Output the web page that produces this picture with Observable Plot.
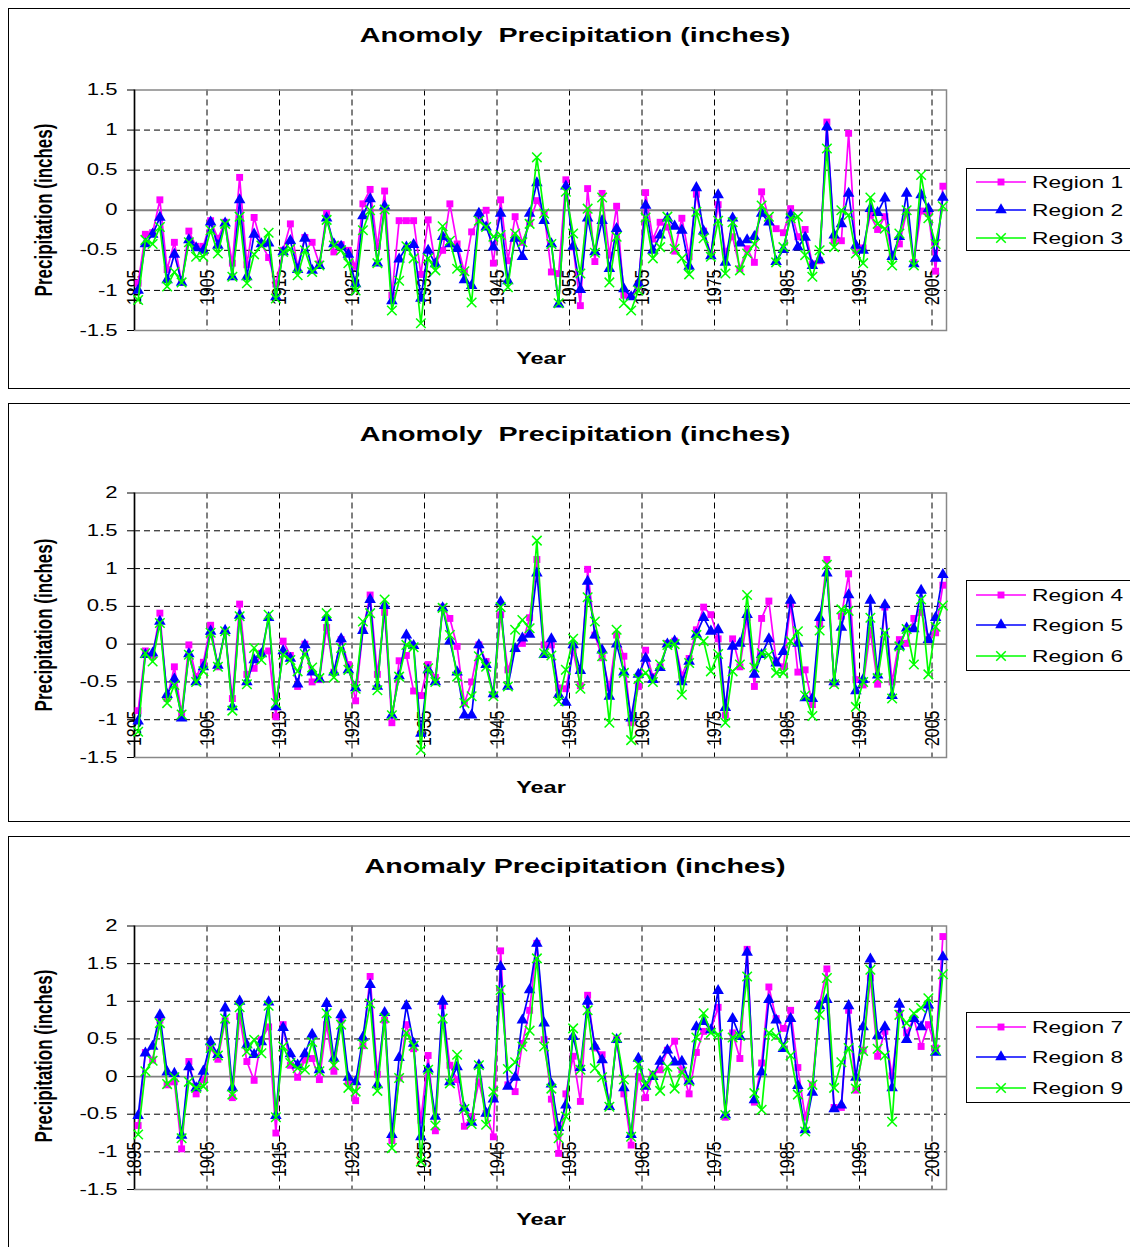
<!DOCTYPE html>
<html><head><meta charset="utf-8">
<script src="https://cdn.jsdelivr.net/npm/d3@7"></script>
<script src="https://cdn.jsdelivr.net/npm/@observablehq/plot@0.6"></script>
<style>
body{margin:0;background:#fff;font-family:"Liberation Sans",Arial,sans-serif;color:#000;}
#root{position:relative;width:1130px;height:1247px;overflow:hidden;background:#fff;}
.frame{position:absolute;border:1.5px solid #000;box-sizing:border-box;}
.t{position:absolute;white-space:pre;line-height:1;}
.leg{position:absolute;border:1px solid #000;background:#fff;box-sizing:border-box;}
svg.plot{position:absolute;left:0;overflow:visible;}
</style></head>
<body><div id="root"></div>
<script>
// ---- categories & labels ----
const years = d3.range(1895, 2007);
const xTickLabels = ["1895","1905","1915","1925","1935","1945","1955","1965","1975","1985","1995","2005"];
const yTicksTop = [-1.5,-1,-0.5,0,0.5,1,1.5];
const yTicksLow = [-1.5,-1,-0.5,0,0.5,1,1.5,2];
const titles = ["Anomoly  Precipitation (inches)","Anomoly  Precipitation (inches)","Anomaly Precipitation (inches)"];
const yTitle = "Precipitation (inches)";
const xTitle = "Year";
const regionNames = [["Region 1","Region 2","Region 3"],["Region 4","Region 5","Region 6"],["Region 7","Region 8","Region 9"]];
const colors = ["#FF00FF","#0000FF","#00FF00"];
const symbols = ["square","triangle","times"];

// ---- series values (inches anomaly), 1895..2006 ----
const region1 = [-0.91,-0.30,-0.28,0.13,-0.74,-0.40,-0.90,-0.26,-0.45,-0.45,
-0.13,-0.35,-0.15,-0.66,0.41,-0.68,-0.09,-0.42,-0.59,-0.92,
-0.50,-0.17,-0.71,-0.34,-0.40,-0.67,-0.04,-0.52,-0.43,-0.50,
-0.70,0.08,0.26,-0.45,0.24,-1.06,-0.13,-0.13,-0.13,-0.80,
-0.12,-0.67,-0.50,0.08,-0.42,-0.77,-0.27,-0.12,0.00,-0.66,
0.13,-0.63,-0.08,-0.40,-0.16,0.12,-0.04,-0.77,-0.79,0.38,
-0.46,-1.19,0.27,-0.64,0.21,-0.56,0.05,-1.06,-1.07,-0.95,
0.22,-0.36,-0.15,-0.21,-0.51,-0.10,-0.58,0.20,-0.26,-0.55,
0.07,-0.52,-0.33,-0.73,-0.48,-0.65,0.23,-0.10,-0.23,-0.28,
0.02,-0.33,-0.24,-0.67,-0.63,1.10,-0.38,-0.38,0.96,-0.50,
-0.47,-0.06,-0.24,-0.08,-0.58,-0.42,-0.02,-0.65,-0.01,-0.04,
-0.76,0.30];
const region2 = [-1.00,-0.42,-0.30,-0.09,-0.87,-0.55,-0.90,-0.37,-0.47,-0.50,
-0.15,-0.44,-0.16,-0.83,0.13,-0.83,-0.30,-0.42,-0.41,-1.08,
-0.52,-0.38,-0.74,-0.35,-0.75,-0.69,-0.10,-0.42,-0.45,-0.55,
-0.92,-0.07,0.14,-0.66,0.05,-1.13,-0.61,-0.46,-0.43,-1.10,
-0.50,-0.67,-0.33,-0.42,-0.48,-0.87,-0.94,-0.04,-0.21,-0.46,
-0.04,-0.88,-0.35,-0.58,-0.04,0.34,-0.13,-0.42,-1.17,0.30,
-0.45,-0.99,-0.10,-0.52,-0.13,-0.73,-0.23,-0.98,-1.08,-0.91,
0.06,-0.50,-0.31,-0.10,-0.20,-0.25,-0.70,0.28,-0.26,-0.57,
0.19,-0.65,-0.10,-0.41,-0.37,-0.33,-0.04,-0.15,-0.64,-0.49,
-0.06,-0.46,-0.34,-0.69,-0.62,1.04,-0.31,-0.17,0.21,-0.44,
-0.50,0.02,-0.03,0.15,-0.58,-0.33,0.21,-0.67,0.19,0.02,
-0.60,0.16];
const region3 = [-1.12,-0.37,-0.42,-0.21,-0.95,-0.77,-0.90,-0.40,-0.58,-0.58,
-0.25,-0.54,-0.17,-0.83,-0.08,-0.91,-0.55,-0.44,-0.28,-1.10,
-0.52,-0.48,-0.81,-0.50,-0.77,-0.69,-0.12,-0.44,-0.50,-0.66,
-1.00,-0.25,0.00,-0.66,0.01,-1.25,-0.88,-0.45,-0.60,-1.41,
-0.60,-0.75,-0.20,-0.38,-0.73,-0.76,-1.15,-0.13,-0.21,-0.33,
-0.31,-0.96,-0.29,-0.40,-0.17,0.66,-0.04,-0.42,-1.16,0.23,
-0.29,-0.79,0.02,-0.53,0.16,-0.90,-0.33,-1.16,-1.25,-1.00,
-0.09,-0.60,-0.46,-0.08,-0.48,-0.60,-0.80,-0.02,-0.35,-0.58,
-0.13,-0.79,-0.15,-0.75,-0.54,-0.42,0.06,-0.08,-0.65,-0.46,
-0.10,-0.08,-0.56,-0.83,-0.50,0.77,-0.46,0.00,-0.06,-0.54,
-0.66,0.16,-0.17,-0.23,-0.69,-0.29,0.00,-0.69,0.44,-0.10,
-0.42,0.05];
const region4 = [-0.88,-0.09,-0.16,0.41,-0.72,-0.30,-0.92,-0.01,-0.43,-0.24,
0.25,-0.30,0.17,-0.72,0.53,-0.40,-0.32,-0.12,-0.09,-0.96,
0.04,-0.15,-0.56,0.00,-0.50,-0.47,0.22,-0.37,0.06,-0.27,
-0.75,0.18,0.65,-0.40,0.42,-1.04,-0.22,-0.15,-0.62,-0.68,
-0.27,-0.44,0.49,0.34,-0.03,-0.78,-0.50,-0.01,-0.23,-0.67,
0.39,-0.34,-0.06,0.01,0.35,1.12,-0.01,-0.01,-0.58,-0.59,
-0.09,-0.55,0.99,0.12,-0.18,-0.58,0.12,-0.16,-1.04,-0.56,
-0.08,-0.43,-0.30,0.01,0.04,-0.41,-0.19,0.19,0.49,0.39,
0.07,-0.94,0.07,-0.30,0.35,-0.56,0.34,0.57,-0.22,-0.30,
0.53,-0.37,-0.34,-0.80,0.27,1.12,-0.52,0.37,0.93,-0.47,
-0.54,0.18,-0.53,0.49,-0.50,0.06,0.01,0.34,0.42,0.06,
0.15,0.78];
const region5 = [-1.02,-0.14,-0.12,0.30,-0.67,-0.46,-0.98,-0.13,-0.50,-0.30,
0.17,-0.28,0.18,-0.83,0.38,-0.50,-0.21,-0.13,0.35,-0.83,
-0.09,-0.19,-0.53,-0.01,-0.37,-0.46,0.35,-0.37,0.07,-0.34,
-0.58,0.18,0.59,-0.56,0.51,-0.94,-0.42,0.12,-0.02,-1.18,
-0.34,-0.50,0.48,0.04,-0.37,-0.94,-0.94,-0.01,-0.27,-0.66,
0.56,-0.56,-0.06,0.08,0.13,0.94,-0.14,0.07,-0.67,-0.77,
-0.01,-0.35,0.83,0.12,-0.08,-0.69,0.00,-0.37,-0.98,-0.40,
-0.19,-0.47,-0.31,0.00,0.04,-0.50,-0.23,0.13,0.35,0.17,
0.19,-0.84,-0.03,0.01,0.39,-0.40,-0.14,0.07,-0.25,-0.10,
0.58,0.01,-0.71,-0.72,0.35,0.94,-0.50,0.22,0.65,-0.62,
-0.47,0.58,-0.41,0.52,-0.68,-0.03,0.21,0.20,0.71,0.06,
0.35,0.92];
const region6 = [-1.16,-0.12,-0.23,0.28,-0.78,-0.54,-0.93,-0.14,-0.50,-0.36,
0.15,-0.30,0.17,-0.88,0.37,-0.53,-0.05,-0.21,0.39,-0.78,
-0.14,-0.21,-0.36,-0.13,-0.31,-0.45,0.41,-0.44,-0.05,-0.34,
-0.59,0.30,0.41,-0.61,0.59,-0.94,-0.43,-0.01,-0.04,-1.40,
-0.32,-0.50,0.48,0.12,-0.43,-0.78,-0.69,-0.16,-0.30,-0.69,
0.49,-0.56,0.19,0.32,0.21,1.37,-0.12,-0.15,-0.76,-0.34,
0.07,-0.59,0.62,0.30,-0.16,-1.04,0.19,-0.38,-1.27,-0.46,
-0.38,-0.50,-0.27,-0.01,0.00,-0.67,-0.25,0.12,0.04,-0.36,
-0.13,-1.04,-0.36,-0.27,0.65,-0.31,-0.12,-0.14,-0.38,-0.38,
0.04,0.17,-0.68,-0.95,0.18,1.05,-0.53,0.46,0.44,-0.83,
-0.50,0.35,-0.45,0.15,-0.72,-0.03,0.20,-0.27,0.59,-0.40,
0.23,0.51];
const region7 = [-0.65,0.32,0.22,0.75,-0.11,-0.07,-0.96,0.20,-0.23,-0.04,
0.38,0.23,0.74,-0.28,0.80,0.20,-0.05,0.49,0.66,-0.75,
0.69,0.15,-0.01,0.22,0.24,-0.04,0.69,0.07,0.75,-0.07,
-0.32,0.41,1.33,0.03,0.75,-0.85,-0.02,0.69,0.37,-0.58,
0.28,-0.72,0.94,0.15,-0.04,-0.66,-0.53,-0.07,-0.49,-0.80,
1.67,-0.11,-0.20,0.44,0.88,1.77,0.49,-0.30,-1.02,-0.23,
0.27,-0.33,1.08,0.38,0.29,-0.40,0.49,-0.23,-0.91,0.00,
-0.28,0.03,0.09,0.35,0.47,0.09,-0.23,0.32,0.60,0.62,
0.92,-0.54,0.58,0.24,1.69,-0.34,0.18,1.19,0.77,0.64,
0.88,0.12,-0.54,-0.11,0.96,1.43,-0.41,-0.41,0.88,-0.18,
0.35,1.31,0.27,0.60,0.01,0.84,0.58,0.77,0.40,0.69,
0.38,1.86];
const region8 = [-0.52,0.31,0.40,0.82,0.06,0.04,-0.78,0.13,-0.15,0.07,
0.46,0.29,0.91,-0.15,1.00,0.42,0.29,0.46,0.99,-0.52,
0.65,0.30,0.15,0.30,0.56,0.09,0.97,0.24,0.82,-0.01,
-0.07,0.52,1.22,-0.11,0.85,-0.77,0.25,0.94,0.44,-0.80,
0.10,-0.53,1.00,-0.07,0.13,-0.42,-0.61,0.15,-0.49,-0.30,
1.46,-0.13,-0.01,0.75,1.15,1.77,0.71,-0.10,-0.68,-0.38,
0.53,0.12,1.00,0.40,0.22,-0.40,0.49,-0.15,-0.77,0.24,
-0.13,0.00,0.20,0.35,0.19,0.20,-0.06,0.66,0.73,0.62,
1.14,-0.51,0.77,0.53,1.65,-0.31,0.06,1.02,0.75,0.37,
0.77,-0.12,-0.71,-0.21,0.94,1.02,-0.43,-0.38,0.94,-0.01,
0.66,1.56,0.54,0.66,-0.15,0.96,0.49,0.77,0.66,0.95,
0.32,1.59];
const region9 = [-0.77,0.07,0.21,0.71,-0.10,-0.01,-0.82,-0.07,-0.15,-0.13,
0.38,0.28,0.77,-0.24,0.92,0.33,0.49,0.31,0.94,-0.54,
0.40,0.18,0.11,0.09,0.46,0.07,0.84,0.15,0.69,-0.15,
-0.20,0.43,0.97,-0.19,0.78,-0.95,-0.02,0.58,0.41,-1.13,
0.09,-0.65,0.77,-0.09,0.29,-0.43,-0.63,0.15,-0.64,-0.20,
1.15,0.10,0.19,0.40,0.61,1.57,0.40,-0.16,-0.82,-0.53,
0.64,0.09,0.88,0.11,-0.01,-0.40,0.52,-0.04,-0.80,0.16,
-0.11,0.04,-0.19,0.13,-0.16,0.06,-0.06,0.52,0.84,0.58,
0.56,-0.51,0.52,0.54,1.33,-0.22,-0.44,0.58,0.54,0.41,
0.28,-0.24,-0.73,-0.11,0.82,1.31,-0.15,0.19,0.38,-0.16,
0.34,1.42,0.37,0.28,-0.60,0.82,0.71,0.84,0.91,1.04,
0.35,1.36];

const panelSeries = [[region1,region2,region3],[region4,region5,region6],[region7,region8,region9]];
const panelTicks = [yTicksTop, yTicksLow, yTicksLow];

// ---- layout (page pixels) ----
const layout = [
  {frameTop:8,   frameBottom:389,  plotTop:89.5,  plotBottom:330,  titleY:35,  yearY:358,  yTitleY:210, legTop:168,  legH:83, rows:[14,42,70], tickPad:-61},
  {frameTop:403, frameBottom:822,  plotTop:492.5, plotBottom:757,  titleY:434, yearY:787,  yTitleY:625, legTop:580,  legH:91, rows:[15,45,76], tickPad:-47},
  {frameTop:836, frameBottom:1262, plotTop:925.5, plotBottom:1189, titleY:866, yearY:1219, yTitleY:1056, legTop:1012, legH:91, rows:[15,45,76], tickPad:-48}
];
const plotLeft = 134, plotRight = 946, W = 1130, STRETCH = 1.38;
const symR = {square:3.9, triangle:4.3, times:4.4};

const root = document.getElementById("root");
function addText(txt, x, y, css, transform) {
  const d = document.createElement("div");
  d.className = "t"; d.textContent = txt;
  d.style.cssText += `left:${x}px;top:${y}px;` + css + `transform:${transform};`;
  root.appendChild(d); return d;
}

const xTickPos = xTickLabels.map(s => +s - 0.5);

layout.forEach((L, p) => {
  const fr = document.createElement("div");
  fr.className = "frame";
  fr.style.cssText += `left:8px;top:${L.frameTop}px;width:1160px;height:${L.frameBottom - L.frameTop}px;`;
  root.appendChild(fr);

  const ticks = panelTicks[p];
  const ymin = ticks[0], ymax = ticks[ticks.length - 1];
  const H = Math.min(L.frameBottom, 1247) - L.frameTop;
  const marks = [
    Plot.gridY(ticks.filter(v => v !== 0 && v !== ymin && v !== ymax), {stroke:"#000", strokeOpacity:1, strokeWidth:1, strokeDasharray:"6,4"}),
    Plot.gridX(xTickPos.slice(1), {stroke:"#000", strokeOpacity:1, strokeWidth:1, strokeDasharray:"6,4"}),
    Plot.frame({stroke:"#888", strokeWidth:1.5}),
    Plot.ruleY([0], {stroke:"#808080", strokeWidth:1.8}),
    Plot.ruleX([xTickPos[0]], {stroke:"#000", strokeWidth:1.5}),
    Plot.axisY({ticks, tickFormat: d => String(d), tickSize:7, tickPadding:10, label:null}),
    Plot.axisX({ticks: xTickPos, tickFormat: d => String(d + 0.5), tickRotate:-90, tickSize:0, tickPadding:L.tickPad, label:null})
  ];
  panelSeries[p].forEach((vals, k) => {
    const data = vals.map((v, i) => ({year: years[i], value: v}));
    marks.push(Plot.line(data, {x:"year", y:"value", stroke:colors[k], strokeWidth:1.7}));
    if (symbols[k] === "times")
      marks.push(Plot.dot(data, {x:"year", y:"value", symbol:"times", r:symR.times, stroke:colors[k], strokeWidth:1.5}));
    else
      marks.push(Plot.dot(data, {x:"year", y:"value", symbol:symbols[k], r:symR[symbols[k]], fill:colors[k], stroke:"none"}));
  });
  const svg = Plot.plot({
    width: W, height: H,
    marginLeft: plotLeft, marginRight: W - plotRight,
    marginTop: L.plotTop - L.frameTop, marginBottom: H - (L.plotBottom - L.frameTop),
    x: {domain: [xTickPos[0], 2006.5]},
    y: {domain: [ymin, ymax]},
    style: {fontFamily:'"Liberation Sans", Arial, sans-serif', fontSize:"16px", color:"#000", background:"none"},
    marks
  });
  svg.classList.add("plot");
  svg.style.top = L.frameTop + "px";
  root.appendChild(svg);
  svg.querySelectorAll('g[aria-label="y-axis tick label"] text').forEach(t => {
    const w = t.getComputedTextLength();
    t.setAttribute("textLength", (w * STRETCH).toFixed(1));
    t.setAttribute("lengthAdjust", "spacingAndGlyphs");
  });
  svg.querySelectorAll('g[aria-label="x-axis tick label"] text').forEach(t => {
    const tr = t.getAttribute("transform");
    if (tr) t.setAttribute("transform", tr + " scale(1,1.3)");
  });

  // titles
  addText(titles[p], 575, L.titleY, "font-weight:bold;font-size:20.8px;", `translate(-50%,-50%) scaleX(${STRETCH})`);
  addText(xTitle, 541, L.yearY, "font-weight:bold;font-size:17px;", `translate(-50%,-50%) scaleX(${STRETCH})`);
  addText(yTitle, 44, L.yTitleY, "font-weight:bold;font-size:17px;", `translate(-50%,-50%) rotate(-90deg) scaleY(${STRETCH})`);

  // legend
  const leg = document.createElement("div");
  leg.className = "leg";
  leg.style.cssText += `left:966px;top:${L.legTop}px;width:200px;height:${L.legH}px;`;
  root.appendChild(leg);
  regionNames[p].forEach((name, k) => {
    const cy = L.legTop + L.rows[k];
    const s = d3.create("svg").attr("width", 60).attr("height", 16)
      .style("position","absolute").style("left","972px").style("top", (cy - 8) + "px").style("overflow","visible");
    s.append("line").attr("x1", 4).attr("x2", 54).attr("y1", 8).attr("y2", 8).attr("stroke", colors[k]).attr("stroke-width", 1.7);
    const symType = {square:d3.symbolSquare, triangle:d3.symbolTriangle, times:d3.symbolTimes}[symbols[k]];
    const r = symR[symbols[k]];
    const path = s.append("path").attr("transform", "translate(29,8)").attr("d", d3.symbol(symType, r * r * Math.PI)());
    if (symbols[k] === "times") path.attr("fill", "none").attr("stroke", colors[k]).attr("stroke-width", 1.5);
    else path.attr("fill", colors[k]);
    root.appendChild(s.node());
    addText(name, 1032, cy, "font-size:16.5px;", `translateY(-50%) scaleX(${STRETCH})`).style.transformOrigin = "left center";
  });
});
</script>
</body></html>
